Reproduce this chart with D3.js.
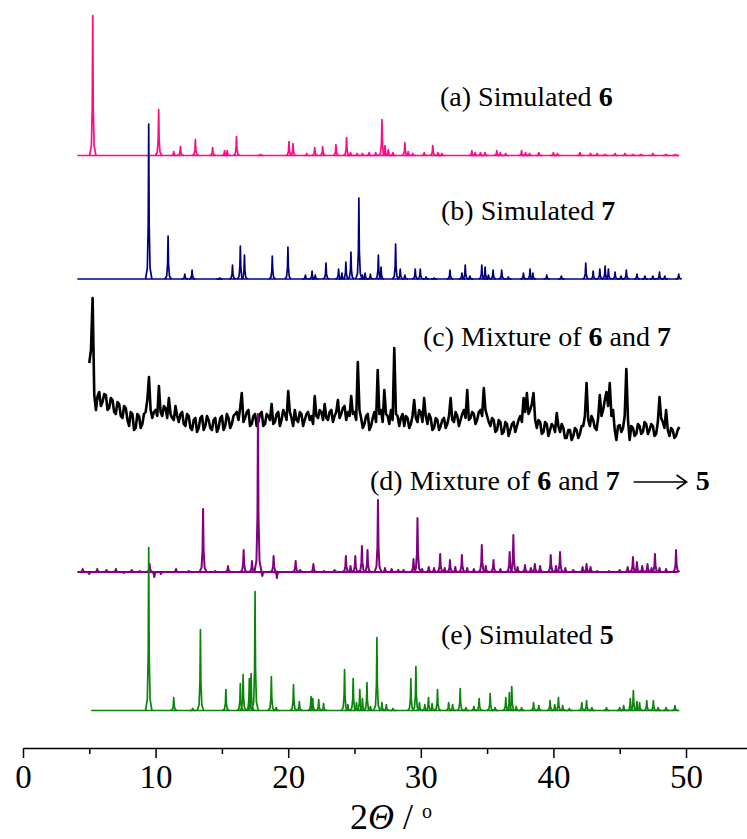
<!DOCTYPE html>
<html lang="en">
<head>
<meta charset="UTF-8" />
<title>PXRD patterns of 5, 6, 7</title>
<script src="https://d3js.org/d3.v7.min.js"></script>
<style>
  body { margin: 0; background: #fff; }
  svg { display: block; font-family: "Liberation Serif", "Times New Roman", serif; }
  .label { font-size: 28px; fill: #000; }
  .axis text { font-family: "Liberation Serif", serif; font-size: 33px; fill: #000; }
  .axis path, .axis line { stroke: #000; stroke-width: 1.5px; }
</style>
</head>
<body>
<div id="chart"></div>
<script>
// peak lists: [2theta, intensity]
const aPeaks = [[5.26,140],[10.23,46],[11.37,4],[11.87,9],[13.0,16],[14.3,8],[15.2,5],[15.4,5],[16.1,19],[17.9,1],
  [20.06,14],[20.36,12],[21.4,2],[22.0,8],[22.6,9],[23.6,11],[24.4,18],[24.7,3],[25.2,2],[25.6,2],[26.1,3],[26.6,3],
  [27.07,36],[27.3,10],[27.55,6],[27.9,3],[28.8,13],[29.05,4],[29.4,2],[30.26,3],[30.9,10],[31.3,3],[31.6,2],
  [33.85,5],[34.1,3],[34.5,3],[34.85,3],[35.73,5],[36.0,3],[36.4,2],[37.6,5],[37.9,3],[38.2,2],[38.9,3],[40.0,3],
  [40.3,2],[42.0,3],[42.8,2],[43.3,2],[43.9,1],[44.65,2],[45.4,2],[46.0,1],[46.6,1],[47.5,2],[48.5,1],[49.2,1]];

const bPeaks = [[9.48,155],[10.94,43],[12.2,5],[12.75,9],[14.83,1],[15.8,14],[16.39,33],[16.7,24],[18.8,23],[19.98,32],
  [21.3,4],[21.8,8],[22.04,4],[22.85,16],[23.8,10],[24.05,6],[24.35,17],[24.73,27],[25.33,81],[25.6,4],[25.8,6],
  [26.2,5],[26.8,24],[27.0,12],[28.1,35],[28.45,10],[28.8,4],[29.58,10],[29.96,10],[30.4,2],[31.0,1],[32.2,9],
  [33.1,6],[33.35,14],[33.7,3],[34.6,14],[34.85,12],[35.1,4],[35.45,9],[36.1,9],[36.6,2],[37.74,6],[38.24,10],
  [38.45,6],[39.5,4],[40.6,3],[42.44,16],[43.0,8],[43.5,10],[43.9,13],[44.15,10],[44.65,7],[45.1,3],[45.5,9],
  [46.3,5],[46.9,3],[47.5,3],[48.0,7],[48.4,3],[49.45,5]];

// measured mixture (c), sampled every 0.125 deg from 5.0
const cStart = 5.0;
const cStep = 0.125;
const cValues = [
  77,90,142,45,30,44,48,34,38,46,45,30,32,42,40,28,26,38,36,24,22,34,32,20,14,28,26,10,12,26,24,12,16,26,28,40,
  63,30,22,28,30,24,54,28,24,34,32,22,42,26,22,20,34,24,18,26,28,16,14,26,24,12,10,20,22,8,12,22,24,10,14,24,
  20,12,10,20,22,8,12,22,24,10,14,26,22,12,16,24,26,28,20,32,47,18,22,28,30,14,16,24,26,14,18,26,28,14,16,26,
  24,20,36,16,18,26,28,14,20,30,26,20,49,28,22,14,30,20,18,28,26,14,20,26,28,20,24,16,44,24,22,30,28,20,36,22,
  20,28,30,18,24,28,40,22,26,32,34,20,28,24,44,26,28,20,78,30,22,12,16,24,26,10,14,22,28,18,70,26,30,18,50,26,
  24,16,30,20,92,26,24,14,22,26,14,24,22,12,16,24,40,22,18,30,28,18,42,24,16,26,22,10,12,22,20,10,14,20,22,12,
  16,24,42,20,18,28,24,14,20,26,30,22,50,20,22,28,26,16,20,28,30,24,52,30,24,18,14,22,20,8,10,20,18,6,8,18,
  16,4,10,16,18,8,14,20,24,18,42,28,47,26,30,36,47,20,12,20,18,6,8,18,16,4,10,16,14,8,27,14,8,16,12,2,
  2,10,10,0,4,12,10,2,6,14,14,24,57,20,14,24,20,12,10,22,45,24,30,40,48,34,57,24,30,10,0,14,15,8,12,24,
  71,20,0,14,12,4,6,16,14,6,8,18,16,6,10,16,14,4,6,18,43,22,18,12,30,10,4,12,10,2,4,10,13];

// mixture (d) after conversion
const dPeaks = [[4.5,3],[5.0,-2],[5.6,3],[6.3,2],[7.0,3],[7.6,-1],[8.2,2],[8.8,1],[9.55,8],[9.9,-5],[10.4,-2],
  [11.54,3],[12.5,1],[13.58,63],[14.5,1],[15.46,6],[16.64,22],[17.27,11],[17.72,158],[18.05,-4],[18.9,16],
  [19.15,-6],[20.56,11],[20.9,2],[21.9,8],[22.7,1],[23.5,2],[24.35,16],[24.7,6],[25.06,16],[25.56,26],[25.98,22],
  [26.77,72],[27.3,4],[27.8,3],[28.3,2],[28.7,2],[29.45,13],[29.75,54],[30.1,3],[30.6,5],[31.0,4],[31.46,18],
  [31.8,4],[32.2,12],[32.6,5],[33.1,17],[33.5,4],[34.0,3],[34.6,27],[34.9,6],[35.48,12],[36.0,3],[36.7,20],
  [36.98,37],[37.3,5],[37.86,7],[38.3,4],[38.6,8],[39.0,6],[39.8,17],[40.2,6],[40.5,20],[40.9,4],[41.5,2],
  [42.2,5],[42.5,8],[42.8,5],[43.3,1],[44.2,1],[45.0,2],[45.6,5],[46.0,15],[46.3,10],[46.7,6],[47.1,8],[47.4,4],
  [47.66,18],[48.0,4],[48.5,3],[49.25,22]];

const ePeaks = [[9.48,163],[11.37,13],[12.8,2],[13.38,81],[15.3,21],[16.39,27],[16.6,36],[17.07,32],[17.2,37],
  [17.5,119],[18.73,34],[19.1,3],[20.4,26],[20.84,9],[21.72,14],[21.85,12],[22.3,11],[22.67,7],[24.25,41],
  [24.5,6],[24.9,32],[25.15,8],[25.4,21],[25.6,12],[25.94,28],[26.2,4],[26.69,73],[27.07,8],[27.4,6],[27.9,2],
  [29.25,32],[29.63,44],[29.9,8],[30.3,6],[30.58,13],[30.85,7],[31.26,21],[32.1,8],[32.4,6],[32.97,22],[33.4,3],
  [34.0,4],[34.4,12],[35.23,17],[35.6,3],[36.41,13],[36.68,18],[36.86,24],[37.2,4],[37.6,3],[38.5,8],[38.9,5],
  [39.75,10],[40.1,6],[40.38,13],[40.7,5],[41.2,2],[42.14,8],[42.5,10],[42.9,3],[44.0,3],[45.0,3],[45.3,5],
  [45.8,12],[46.03,20],[46.3,9],[46.5,8],[47.04,10],[47.54,10],[47.9,3],[48.5,3],[49.17,5]];

const xTicks = [0, 10, 20, 30, 40, 50];
const xMinorTicks = [5, 15, 25, 35, 45];

const labels = [
  ["(a) Simulated ", "6"],
  ["(b) Simulated ", "7"],
  ["(c) Mixture of ", "6", " and ", "7"],
  ["(d) Mixture of ", "6", " and ", "7"],
  ["(e) Simulated ", "5"]
];

const width = 747, height = 839;
const axisY = 748;

const svg = d3.select("#chart").append("svg")
  .attr("width", width)
  .attr("height", height);

const x = d3.scaleLinear().domain([0, 54.6]).range([23, width]);
const y = d3.scaleLinear().domain([0, 740]).range([axisY, 8]);

const line = d3.line().x(d => x(d[0])).y(d => y(d[1]));

// one spike shape, in units of peak width / height
const shape = [[-3,0],[-1.3,0.07],[-0.45,0.35],[0,1],[0.45,0.35],[1.3,0.07],[3,0]];

const patterns = [
  { peaks: aPeaks, from: 4.1, to: 49.5, offset: 592.5, color: "#ff0a84", w: 0.08, sw: 1.7 },
  { peaks: bPeaks, from: 4.1, to: 49.5, offset: 469, color: "#00007f", w: 0.08, sw: 1.7 },
  { values: cValues, offset: 308, color: "#000", sw: 2.6 },
  { peaks: dPeaks, from: 4.1, to: 49.4, offset: 176, color: "#800080", w: 0.09, sw: 2 },
  { peaks: ePeaks, from: 5.14, to: 49.5, offset: 37.5, color: "#0a840a", w: 0.08, sw: 1.7 }
];

patterns.forEach(p => {
  const g = svg.append("g")
    .attr("fill", "none")
    .attr("stroke", p.color)
    .attr("stroke-width", p.sw)
    .attr("stroke-linejoin", "round");

  if (p.values) {
    g.append("path")
      .attr("d", line(p.values.map((v, i) => [cStart + i * cStep, p.offset + v])));
    return;
  }
  g.append("path").attr("d", line([[p.from, p.offset], [p.to, p.offset]]));
  g.selectAll("path.peak")
    .data(p.peaks)
    .enter().append("path")
    .attr("class", "peak")
    .attr("d", d => line(shape.map(([dx, f]) => [d[0] + dx * p.w, p.offset + f * d[1]])));
});

// pattern labels
const labelPos = [[440, 106], [441, 220], [423, 346], [370, 490], [441, 644]];
labels.forEach((parts, i) => {
  const t = svg.append("text")
    .attr("class", "label")
    .attr("x", labelPos[i][0])
    .attr("y", labelPos[i][1]);
  parts.forEach((s, j) => {
    t.append("tspan")
      .attr("font-weight", j % 2 ? "bold" : null)
      .text(s);
  });
  if (i === 3) {
    const end = labelPos[i][0] + t.node().getComputedTextLength();
    const ay = labelPos[i][1] - 8;
    svg.append("path")
      .attr("d", `M${end + 14},${ay}H${end + 66}M${end + 57},${ay - 7}L${end + 67},${ay}L${end + 57},${ay + 7}`)
      .attr("fill", "none")
      .attr("stroke", "#000")
      .attr("stroke-width", 1.6);
    svg.append("text")
      .attr("class", "label")
      .attr("x", end + 76)
      .attr("y", labelPos[i][1])
      .attr("font-weight", "bold")
      .text("5");
  }
});

// x axis
svg.append("g")
  .attr("class", "axis")
  .attr("transform", `translate(0,${axisY})`)
  .call(d3.axisBottom(x).tickValues(xTicks).tickSize(10).tickSizeOuter(0).tickPadding(7));

svg.append("g")
  .attr("class", "axis")
  .attr("transform", `translate(0,${axisY})`)
  .call(d3.axisBottom(x).tickValues(xMinorTicks).tickSize(6).tickFormat(""))
  .call(g => g.select(".domain").remove());

const title = svg.append("text")
  .attr("x", 350)
  .attr("y", 829)
  .attr("font-size", 36);
title.append("tspan").text("2");
title.append("tspan").attr("font-style", "italic").text("Θ");
title.append("tspan").text(" / ");
title.append("tspan").attr("font-size", 20).attr("dy", -11).text("o");
</script>
</body>
</html>
